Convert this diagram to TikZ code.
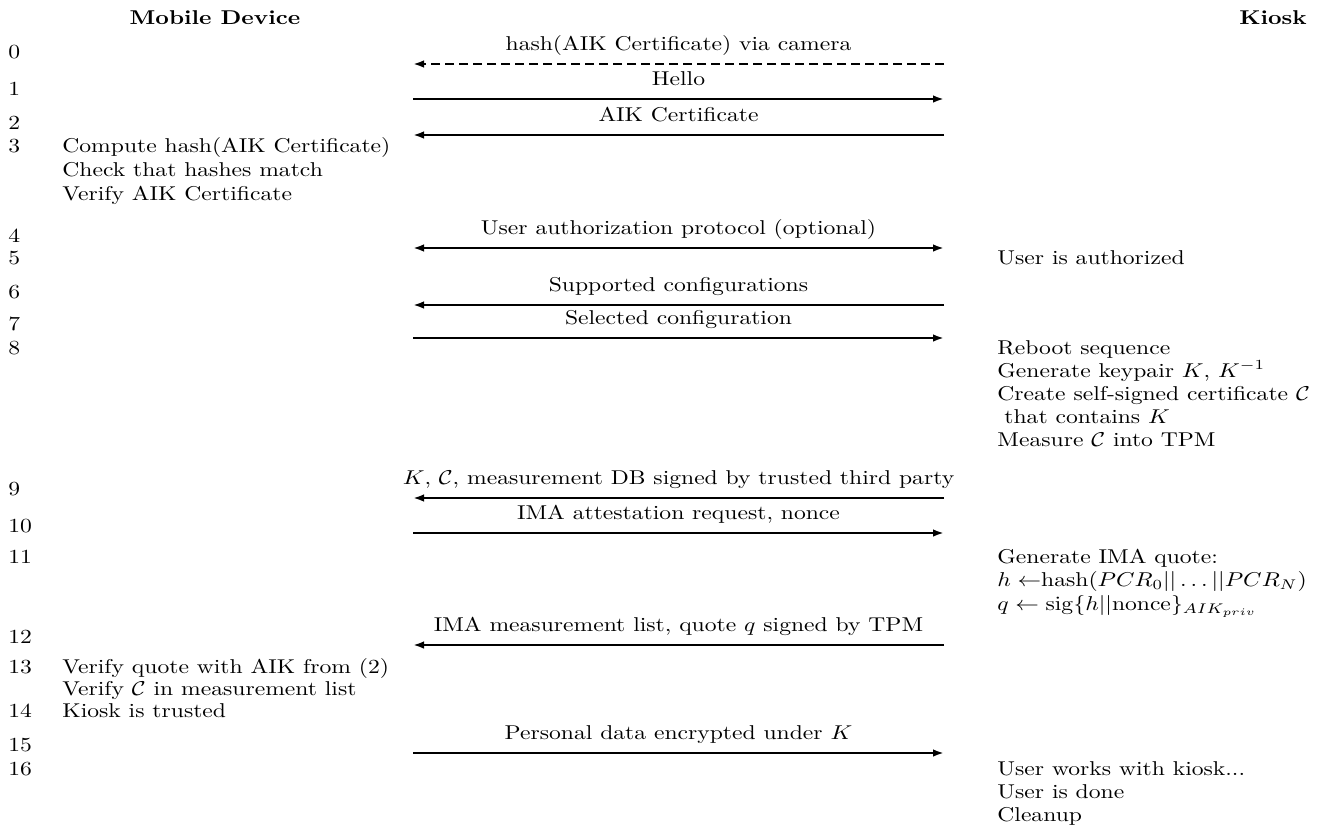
\documentclass[tikz,border=0pt]{standalone}
\usepackage{graphicx}
\usetikzlibrary{arrows.meta}
\newcommand{\sx}[1]{\scalebox{1.18}[1]{#1}}
\begin{document}
\begin{tikzpicture}[x=0.5pt,y=-0.5pt,
  txt/.style={anchor=base west,inner sep=0pt,font=\fontsize{10}{12}\selectfont},
  hdr/.style={anchor=base,inner sep=0pt,font=\fontsize{10}{12}\selectfont\bfseries},
  lab/.style={anchor=base,inner sep=0pt,midway,yshift=7pt,font=\fontsize{10}{12}\selectfont},
  msg/.style={line width=1.35pt,-{Latex[length=5.5pt,width=3.8pt]}},
  msgboth/.style={line width=1.35pt,{Latex[length=5.5pt,width=3.8pt]}-{Latex[length=5.5pt,width=3.8pt]}},
  camera/.style={msg,dash pattern=on 4.5pt off 2.5pt}]
\useasboundingbox (0,0) rectangle (1331,826);
% headers
\node[hdr] (hmd) at (215,24) {\sx{Mobile Device}};
\node[hdr] (hk) at (1273,24) {\sx{Kiosk}};
% step numbers
\node[txt] (n0) at (8,58) {\sx{0}};
\node[txt] (n1) at (8,95) {\sx{1}};
\node[txt] (n2) at (8,129) {\sx{2}};
\node[txt] (n3) at (8,152) {\sx{3}};
\node[txt] (n4) at (8,242) {\sx{4}};
\node[txt] (n5) at (8,264) {\sx{5}};
\node[txt] (n6) at (8,298) {\sx{6}};
\node[txt] (n7) at (8,330) {\sx{7}};
\node[txt] (n8) at (8,354) {\sx{8}};
\node[txt] (n9) at (8,495) {\sx{9}};
\node[txt] (n10) at (8,532) {\sx{10}};
\node[txt] (n11) at (8,563) {\sx{11}};
\node[txt] (n12) at (8,643) {\sx{12}};
\node[txt] (n13) at (8,673) {\sx{13}};
\node[txt] (n14) at (8,717) {\sx{14}};
\node[txt] (n15) at (8,751) {\sx{15}};
\node[txt] (n16) at (8,775) {\sx{16}};
% mobile device actions
\node[txt] (m3a) at (62,152) {\sx{Compute hash(AIK Certificate)}};
\node[txt] (m3b) at (62,176) {\sx{Check that hashes match}};
\node[txt] (m3c) at (62,200) {\sx{Verify AIK Certificate}};
\node[txt] (m13a) at (62,673) {\sx{Verify quote with AIK from (2)}};
\node[txt] (m13b) at (62,695) {\sx{Verify $\mathcal{C}$ in measurement list}};
\node[txt] (m14) at (62,717) {\sx{Kiosk is trusted}};
% kiosk actions
\node[txt] (k5) at (997,264) {\sx{User is authorized}};
\node[txt] (k8a) at (997,354) {\sx{Reboot sequence}};
\node[txt] (k8b) at (997,377) {\sx{Generate keypair $K$, $K^{-1}$}};
\node[txt] (k8c) at (997,400) {\sx{Create self-signed certificate $\mathcal{C}$}};
\node[txt] (k8d) at (1004,423) {\sx{that contains $K$}};
\node[txt] (k8e) at (997,446) {\sx{Measure $\mathcal{C}$ into TPM}};
\node[txt] (k11a) at (997,563) {\sx{Generate IMA quote:}};
\node[txt] (k11b) at (997,586) {\sx{$h \leftarrow$hash($PCR_0||\ldots||PCR_N$)}};
\node[txt] (k11c) at (997,610) {\sx{$q \leftarrow \mathrm{sig}\{h||\mathrm{nonce}\}_{AIK_{priv}}$}};
\node[txt] (k16a) at (997,775) {\sx{User works with kiosk...}};
\node[txt] (k16b) at (997,798) {\sx{User is done}};
\node[txt] (k16c) at (997,821) {\sx{Cleanup}};
% message end points (M = mobile side, K = kiosk side)
\foreach \i/\y in {0/64,1/99,2/135,4/248,6/305,7/338,9/498,10/533,12/645,15/753}{
  \coordinate (M\i) at (413,\y);
  \coordinate (K\i) at (944,\y);
}
% messages
\draw[camera] (K0) -- node[lab] {\sx{hash(AIK Certificate) via camera}} (M0);
\draw[msg] (M1) -- node[lab] {\sx{Hello}} (K1);
\draw[msg] (K2) -- node[lab] {\sx{AIK Certificate}} (M2);
\draw[msgboth] (M4) -- node[lab] {\sx{User authorization protocol (optional)}} (K4);
\draw[msg] (K6) -- node[lab] {\sx{Supported configurations}} (M6);
\draw[msg] (M7) -- node[lab] {\sx{Selected configuration}} (K7);
\draw[msg] (K9) -- node[lab] {\sx{$K$, $\mathcal{C}$, measurement DB signed by trusted third party}} (M9);
\draw[msg] (M10) -- node[lab] {\sx{IMA attestation request, nonce}} (K10);
\draw[msg] (K12) -- node[lab] {\sx{IMA measurement list, quote $q$ signed by TPM}} (M12);
\draw[msg] (M15) -- node[lab] {\sx{Personal data encrypted under $K$}} (K15);
\end{tikzpicture}
\end{document}
